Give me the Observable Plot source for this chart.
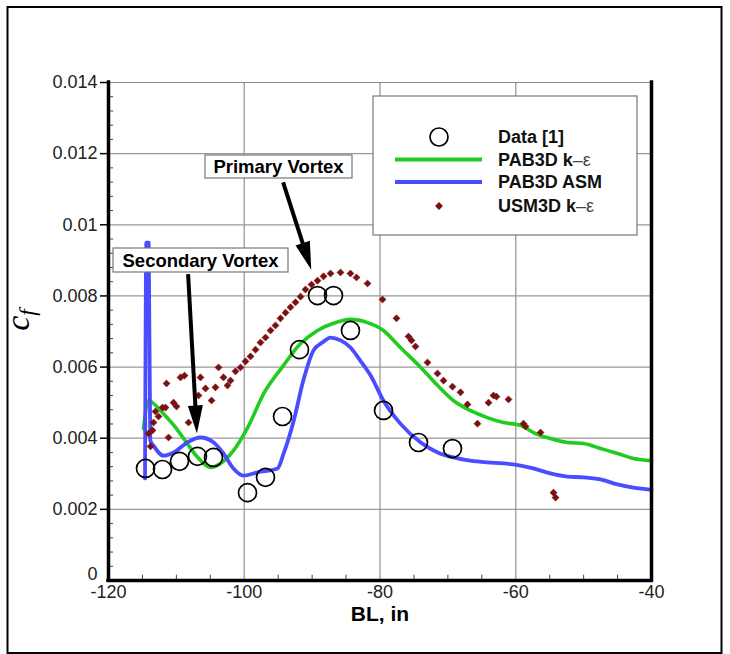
<!DOCTYPE html>
<html><head><meta charset="utf-8">
<script src="https://cdn.jsdelivr.net/npm/d3@7"></script>
<script src="https://cdn.jsdelivr.net/npm/@observablehq/plot@0.6"></script>
<style>
body{margin:0;background:#fff;}
#wrap{position:relative;width:730px;height:654px;}
</style></head><body><div id="wrap"></div>
<script>
// ---- Data [1] (experiment, open circles)
const dataBL = [-114.55,-112.04,-109.54,-106.89,-104.53,-99.52,-96.87,-94.36,-91.86,-89.21,-86.85,-84.35,-79.48,-74.33,-69.32];
const dataCf = [0.00315,0.00312,0.00335,0.00349,0.00346,0.00247,0.00290,0.00461,0.00649,0.00801,0.00801,0.00703,0.00478,0.00388,0.00371];
// ---- PAB3D k-eps (green line)
const pabKeBL = [-114.84,-114.1,-113.4,-111.9,-110.1,-108.4,-106.9,-105.0,-103.5,-101.6,-99.5,-97.0,-94.4,-91.7,-89.2,-86.85,-84.35,-81.84,-79.5,-77.0,-74.0,-71.5,-69.2,-66.7,-64.2,-61.8,-59.3,-57.4,-54.9,-52.4,-50.0,-47.5,-45.0,-42.65,-40];
const pabKeCf = [0.00427,0.00506,0.00498,0.00469,0.00430,0.00385,0.00347,0.00318,0.00329,0.00365,0.00430,0.00530,0.00600,0.00666,0.00703,0.00723,0.00734,0.00725,0.00703,0.00655,0.00599,0.00548,0.00506,0.00478,0.00458,0.00444,0.00436,0.00416,0.00399,0.00388,0.00385,0.00371,0.00357,0.00343,0.00337];
// ---- PAB3D ASM (blue line)
const pabAsmBL = [-114.62,-114.42,-114.08,-113.85,-113.4,-111.9,-110.4,-108.4,-106.45,-104.5,-103.06,-101.6,-100.1,-98.05,-95.1,-94.2,-92.7,-91.3,-89.8,-88.5,-87.3,-85.8,-84.35,-82.9,-81.4,-79.5,-77.0,-74.0,-71.5,-69.2,-66.7,-64.2,-61.8,-59.3,-57.4,-54.9,-52.4,-50.0,-47.5,-45.0,-42.65,-40];
const pabAsmCf = [0.00287,0.0095,0.0095,0.00394,0.00380,0.00351,0.00360,0.00388,0.00402,0.00388,0.00357,0.00315,0.00295,0.00304,0.00315,0.00357,0.00450,0.00562,0.00647,0.00669,0.00683,0.00675,0.00655,0.00618,0.00577,0.00506,0.00441,0.00388,0.00360,0.00346,0.00337,0.00332,0.00329,0.00323,0.00315,0.00301,0.00292,0.00290,0.00284,0.00270,0.00261,0.00255];
// ---- USM3D k-eps (diamonds)
const usmBL = [-113.81,-114.11,-113.52,-113.37,-113.08,-112.63,-112.04,-111.60,-111.45,-111.16,-110.42,-109.98,-109.39,-108.80,-108.21,-106.74,-106.45,-105.71,-104.82,-104.24,-103.79,-103.06,-102.47,-102.03,-101.29,-100.55,-99.82,-99.08,-98.34,-97.61,-96.87,-96.13,-95.40,-94.66,-93.92,-93.19,-92.45,-91.71,-90.98,-90.09,-89.21,-88.32,-87.29,-85.82,-84.35,-83.46,-81.84,-79.63,-77.57,-75.80,-75.36,-74.77,-73.00,-71.53,-70.64,-69.32,-68.14,-67.11,-65.64,-64.01,-63.28,-62.84,-61.07,-58.86,-58.56,-56.35,-54.44,-54.14];
const usmCf = [0.00377,0.00413,0.00422,0.00444,0.00475,0.00461,0.00486,0.00486,0.00554,0.00402,0.00500,0.00489,0.00571,0.00576,0.00444,0.00520,0.00571,0.00540,0.00506,0.00543,0.00599,0.00571,0.00548,0.00562,0.00588,0.00599,0.00616,0.00630,0.00649,0.00669,0.00683,0.00703,0.00717,0.00737,0.00753,0.00768,0.00782,0.00798,0.00818,0.00832,0.00843,0.00855,0.00863,0.00866,0.00863,0.00852,0.00835,0.00790,0.00737,0.00686,0.00675,0.00658,0.00613,0.00582,0.00562,0.00545,0.00529,0.00495,0.00441,0.00500,0.00520,0.00517,0.00509,0.00441,0.00433,0.00416,0.00247,0.00233];
// ---- ticks
const xTicks = [-120,-100,-80,-60,-40];
const xTickLabels = ["-120","-100","-80","-60","-40"];
const yTicks = [0,0.002,0.004,0.006,0.008,0.01,0.012,0.014];
const yTickLabels = ["0","0.002","0.004","0.006","0.008","0.01","0.012","0.014"];
const minorX = d3.range(-115,-40,5).filter(v => v % 20 !== 0);
const minorY = d3.range(1,35).map(i => i*0.0004).filter((v,i) => (i+1) % 5 !== 0);
const seriesNames = ["Data [1]","PAB3D k","PAB3D ASM","USM3D k"];

const zip = (xs, ys) => xs.map((x,i) => ({x, y: ys[i]}));
const expData = zip(dataBL, dataCf);
const pabKe = zip(pabKeBL, pabKeCf);
const pabAsm = zip(pabAsmBL, pabAsmCf);
const usm = zip(usmBL, usmCf);

const GREEN = "#1fcc1f", BLUE = "#4b4bff", RED = "#7a1010";
const yLab = d => yTickLabels[yTicks.indexOf(d)];

const plot = Plot.plot({
  width: 730, height: 654,
  marginLeft: 108, marginRight: 79, marginTop: 82, marginBottom: 74,
  style: {fontFamily: "'Liberation Sans', Arial, sans-serif", background: "white", color: "#000", overflow: "visible"},
  x: {domain: [-120,-40]},
  y: {domain: [0,0.014]},
  marks: [
    Plot.gridX(xTicks.slice(1,-1), {stroke: "#999", strokeOpacity: 1, strokeWidth: 1.3}),
    Plot.gridY(yTicks.slice(1,-1), {stroke: "#999", strokeOpacity: 1, strokeWidth: 1.3}),
    Plot.ruleY([0.014], {stroke: "#888", strokeWidth: 1}),
    Plot.ruleX(minorX, {y1: 0, y2: 0.00015, stroke: "#444", strokeWidth: 1}),
    Plot.ruleY(minorY, {x1: -120, x2: -119.25, stroke: "#444", strokeWidth: 1}),
    Plot.line(pabKe, {x: "x", y: "y", stroke: GREEN, strokeWidth: 3.6, curve: "monotone-x"}),
    Plot.line(pabAsm, {x: "x", y: "y", stroke: BLUE, strokeWidth: 3.8, curve: "monotone-x"}),
    Plot.dot(usm, {x: "x", y: "y", symbol: "diamond2", r: 3.2, fill: RED, stroke: RED, strokeWidth: 0.5}),
    Plot.dot(expData, {x: "x", y: "y", r: 9, stroke: "#000", strokeWidth: 1.7, fill: "none"}),
    Plot.ruleX([-120,-40], {stroke: "#000", strokeWidth: 3.5, strokeLinecap: "square"}),
    Plot.ruleY([0], {stroke: "#000", strokeWidth: 3.5, strokeLinecap: "square"}),
    Plot.axisY(yTicks.slice(1), {tickFormat: yLab, tickSize: 8, tickPadding: 3, fontSize: 18, fill: "#222", label: null, strokeWidth: 1.5}),
    Plot.axisY([0], {tickFormat: yLab, tickSize: 0, tickPadding: 11, dy: -6, fontSize: 18, fill: "#222", label: null}),
    Plot.axisX(xTicks, {tickFormat: d => xTickLabels[xTicks.indexOf(d)], tickSize: 0, tickPadding: 5, fontSize: 18, fill: "#222", label: null})
  ]
});
document.getElementById("wrap").appendChild(plot);

const svg = d3.select(plot);
const g = svg.append("g").attr("font-family", "'Liberation Sans', Arial, sans-serif");

// outer frame
g.append("rect").attr("x", 7.5).attr("y", 7).attr("width", 714).attr("height", 646)
  .attr("fill", "none").attr("stroke", "#000").attr("stroke-width", 2);

// axis titles
const yl = g.append("text").attr("transform", "translate(29,320) rotate(-90)")
  .attr("text-anchor", "middle").attr("font-family", "'Liberation Serif', 'Times New Roman', serif")
  .attr("font-style", "italic").attr("fill", "#000");
yl.append("tspan").attr("font-size", 34).text("c");
yl.append("tspan").attr("font-size", 23).attr("dy", 6).text("f");

g.append("text").attr("x", 380).attr("y", 621).attr("text-anchor", "middle")
  .attr("font-size", 21).attr("font-weight", "bold").text("BL, in");

// annotations
const xs = plot.scale("x"), ys = plot.scale("y");
function arrow(x1, y1, x2, y2) {
  const X1 = xs.apply(x1), Y1 = ys.apply(y1), X2 = xs.apply(x2), Y2 = ys.apply(y2);
  const dx = X2 - X1, dy = Y2 - Y1, L = Math.hypot(dx, dy);
  const ux = dx / L, uy = dy / L, nx = -uy, ny = ux;
  const hl = 28, hw = 7.5;
  const bx = X2 - ux * hl, by = Y2 - uy * hl;
  g.append("line").attr("x1", X1).attr("y1", Y1).attr("x2", bx + ux * 2).attr("y2", by + uy * 2)
    .attr("stroke", "#000").attr("stroke-width", 4);
  g.append("path").attr("d", `M${X2},${Y2}L${bx + nx * hw},${by + ny * hw}L${bx - nx * hw},${by - ny * hw}Z`).attr("fill", "#000");
}
function labelBox(x, y, w, h, txt) {
  g.append("rect").attr("x", x).attr("y", y).attr("width", w).attr("height", h)
    .attr("fill", "#fff").attr("stroke", "#777").attr("stroke-width", 1.2);
  g.append("text").attr("x", x + w / 2).attr("y", y + h / 2).attr("dy", "0.36em")
    .attr("text-anchor", "middle").attr("font-size", 18.5).attr("font-weight", "bold").text(txt);
}
arrow(-94.2, 0.01118, -90.05, 0.00872);
labelBox(205, 155, 147, 23, "Primary Vortex");
arrow(-108.2, 0.00860, -106.9, 0.00412);
labelBox(113, 248, 175, 24, "Secondary Vortex");

// legend
const lg = g.append("g");
lg.append("rect").attr("x", 373).attr("y", 96).attr("width", 264).attr("height", 139)
  .attr("fill", "#fff").attr("stroke", "#777").attr("stroke-width", 1.2);
const rows = [137, 159.5, 182, 206];
lg.append("circle").attr("cx", 439).attr("cy", rows[0]).attr("r", 9).attr("fill", "none").attr("stroke", "#000").attr("stroke-width", 1.7);
lg.append("line").attr("x1", 395).attr("x2", 482).attr("y1", rows[1]).attr("y2", rows[1]).attr("stroke", GREEN).attr("stroke-width", 4);
lg.append("line").attr("x1", 395).attr("x2", 482).attr("y1", rows[2]).attr("y2", rows[2]).attr("stroke", BLUE).attr("stroke-width", 4);
lg.append("path").attr("d", d3.symbol(d3.symbolDiamond2, 40)()).attr("transform", `translate(439,${rows[3]})`).attr("fill", RED);
seriesNames.forEach((name, i) => {
  const t = lg.append("text").attr("x", 498).attr("y", rows[i]).attr("dy", "0.36em")
    .attr("text-anchor", "start")
    .attr("font-size", 18).attr("font-weight", "bold").attr("fill", "#111");
  t.append("tspan").text(name);
  if (i === 1 || i === 3) t.append("tspan").attr("font-weight", "normal").attr("fill", "#444").text("–ε");
});
</script></body></html>
